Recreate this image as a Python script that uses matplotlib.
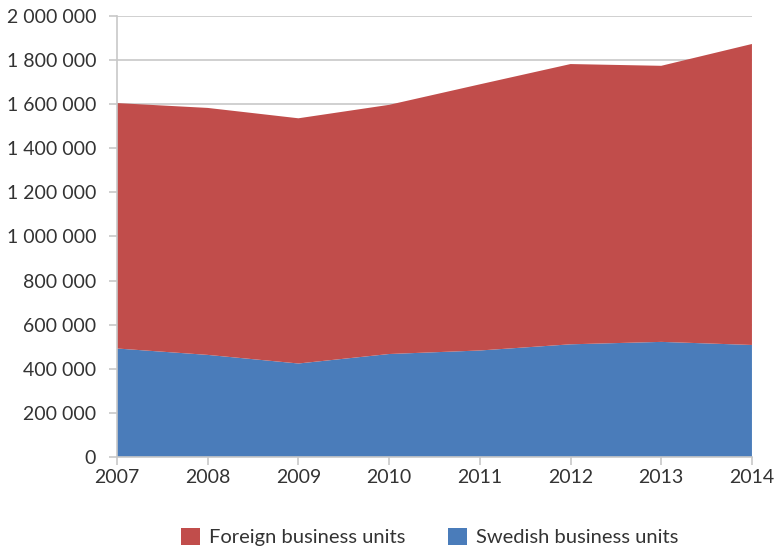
import matplotlib.pyplot as plt
from matplotlib.patches import Patch
from matplotlib.ticker import FuncFormatter

# Business units per year, stacked: Swedish at the bottom, foreign on top
years = [2007, 2008, 2009, 2010, 2011, 2012, 2013, 2014]
swedish_units = [492000, 463000, 424000, 467000, 483000, 511000, 522000, 508000]
total_units = [1605000, 1583000, 1536000, 1597000, 1690000, 1782000, 1774000, 1873000]
foreign_units = [t - s for t, s in zip(total_units, swedish_units)]

series_labels = ["Foreign business units", "Swedish business units"]
y_ticks = list(range(0, 2000001, 200000))

RED = "#C14D4B"
BLUE = "#4A7CBA"
GRID = "#C8C8C8"
TEXT = "#333333"

plt.rcParams["font.family"] = ["Lato", "DejaVu Sans"]

fig = plt.figure(figsize=(7.76, 5.49), dpi=100)
ax = fig.add_axes([0.1508, 0.1676, 0.8182, 0.8033])

ax.stackplot(years, swedish_units, foreign_units,
             colors=[BLUE, RED], linewidth=0)

ax.set_xlim(years[0], years[-1])
ax.set_ylim(0, 2000000)
ax.set_xticks(years)
ax.set_yticks(y_ticks)
ax.yaxis.set_major_formatter(FuncFormatter(lambda v, _: f"{int(v):,}".replace(",", " ")))

# Light horizontal gridlines drawn behind the areas
ax.set_axisbelow(True)
ax.yaxis.grid(True, color=GRID, linewidth=1.2)
ax.xaxis.grid(False)

for side in ["top", "right"]:
    ax.spines[side].set_visible(False)
for side in ["left", "bottom"]:
    ax.spines[side].set_color(GRID)
    ax.spines[side].set_linewidth(1.2)

ax.tick_params(axis="both", colors=GRID, labelcolor=TEXT, labelsize=14,
               length=6, width=1.2)
ax.tick_params(axis="x", pad=3)
ax.tick_params(axis="y", pad=9)

handles = [Patch(facecolor=RED, edgecolor="none"),
           Patch(facecolor=BLUE, edgecolor="none")]
fig.legend(handles, series_labels, loc="center", bbox_to_anchor=(0.554, 0.022),
           ncol=2, frameon=False, fontsize=14.5, labelcolor=TEXT,
           handlelength=0.95, handleheight=0.95, handletextpad=0.45, columnspacing=2.1)

fig.savefig("out.png", dpi=100)
